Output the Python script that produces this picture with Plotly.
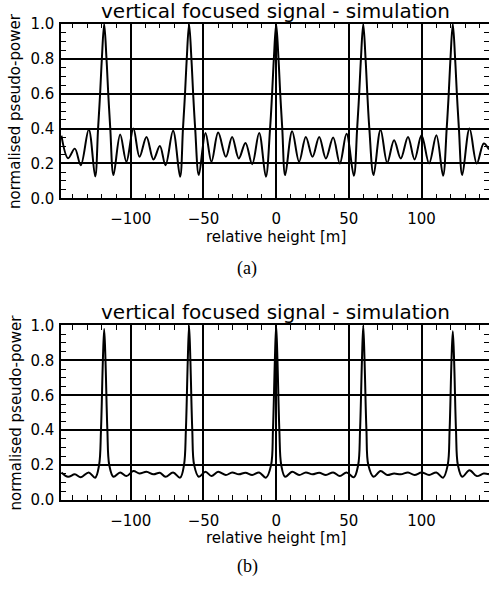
import plotly.graph_objects as go

# ---------------- data ----------------
# (a) vertical focused signal, simulation
top_x = [-147.7, -143.1, -138.5, -134.4, -128.9, -124.5,
         -122.5, -121.1, -119.9, -118.3, -116.7, -115.5, -114.1,
         -111.9, -107.3, -103.0, -98.2, -94.0, -89.2, -84.4, -80.0, -76.1, -70.9, -66.1,
         -64.1, -62.7, -61.5, -59.9, -58.3, -57.1, -55.7,
         -53.2, -48.6, -44.5, -39.9, -34.6, -30.3, -25.7, -21.1, -16.5, -11.7, -7.1,
         -4.2, -2.8, -1.6, 0.0, 1.6, 2.8, 4.2,
         6.2, 11.0, 15.8, 20.4, 25.0, 29.6, 34.2, 39.2, 43.8, 48.4, 53.4,
         55.7, 57.1, 58.3, 59.9, 61.5, 62.7, 64.1,
         67.0, 71.8, 76.4, 81.1, 85.7, 90.7, 95.2, 100.0, 105.2, 110.2, 114.8,
         117.3, 118.7, 119.9, 121.5, 123.1, 124.3, 125.7,
         128.0, 133.0, 138.0, 142.8, 146.4]
top_y = [0.36, 0.23, 0.285, 0.19, 0.395, 0.125,
         0.40, 0.60, 0.80, 1.00, 0.80, 0.60, 0.40,
         0.133, 0.366, 0.21, 0.40, 0.238, 0.352, 0.223, 0.30, 0.19, 0.387, 0.124,
         0.40, 0.60, 0.80, 1.00, 0.80, 0.60, 0.40,
         0.133, 0.375, 0.21, 0.377, 0.238, 0.352, 0.229, 0.318, 0.196, 0.375, 0.124,
         0.40, 0.60, 0.80, 1.00, 0.80, 0.60, 0.40,
         0.133, 0.385, 0.21, 0.352, 0.238, 0.352, 0.229, 0.349, 0.20, 0.37, 0.13,
         0.40, 0.60, 0.80, 1.00, 0.80, 0.60, 0.40,
         0.133, 0.394, 0.204, 0.333, 0.229, 0.352, 0.223, 0.362, 0.20, 0.362, 0.13,
         0.40, 0.60, 0.80, 1.00, 0.80, 0.60, 0.40,
         0.133, 0.40, 0.20, 0.315, 0.28]

# (b) vertical focused signal, simulation
bot_x = [-147.7, -143.1, -138.5, -134.4, -128.9, -124.5,
         -121.8, -120.5, -119.2, -118.3, -117.4, -116.1, -114.8,
         -111.9, -107.3, -103.0, -98.2, -94.0, -89.2, -84.4, -80.0, -76.1, -70.9, -66.1,
         -63.4, -62.1, -60.8, -59.9, -59.0, -57.7, -56.4,
         -53.2, -48.6, -44.5, -39.9, -34.6, -30.3, -25.7, -21.1, -16.5, -11.7, -7.1,
         -3.5, -2.2, -0.9, 0.0, 0.9, 2.2, 3.5,
         6.2, 11.0, 15.8, 20.4, 25.0, 29.6, 34.2, 39.2, 43.8, 48.4, 53.4,
         56.4, 57.7, 59.0, 59.9, 60.8, 62.1, 63.4,
         67.0, 71.8, 76.4, 81.1, 85.7, 90.7, 95.2, 100.0, 105.2, 110.2, 114.8,
         118.0, 119.3, 120.6, 121.5, 122.4, 123.7, 125.0,
         128.0, 133.0, 138.0, 142.8, 146.4]
bot_y = [0.158, 0.133, 0.147, 0.13, 0.158, 0.128,
         0.20, 0.40, 0.80, 0.98, 0.80, 0.40, 0.20,
         0.133, 0.158, 0.137, 0.166, 0.152, 0.162, 0.147, 0.156, 0.133, 0.158, 0.128,
         0.20, 0.40, 0.80, 1.00, 0.80, 0.40, 0.20,
         0.133, 0.162, 0.137, 0.162, 0.143, 0.158, 0.147, 0.156, 0.143, 0.158, 0.128,
         0.20, 0.40, 0.80, 1.00, 0.80, 0.40, 0.20,
         0.133, 0.162, 0.143, 0.158, 0.147, 0.156, 0.143, 0.158, 0.137, 0.158, 0.13,
         0.20, 0.40, 0.80, 1.00, 0.80, 0.40, 0.20,
         0.133, 0.166, 0.143, 0.152, 0.147, 0.158, 0.143, 0.158, 0.143, 0.158, 0.128,
         0.20, 0.40, 0.80, 0.967, 0.80, 0.40, 0.20,
         0.133, 0.171, 0.137, 0.152, 0.147]

title_text = "vertical focused signal - simulation"
x_title = "relative height [m]"
y_title = "normalised pseudo-power"
panel_labels = ["(a)", "(b)"]

# ---------------- figure ----------------
W, H = 489, 592
ML = 61
FONT = "DejaVu Sans"

fig = go.Figure()
fig.add_trace(go.Scatter(x=top_x, y=top_y, mode="lines", line=dict(color="black", width=2, shape="spline", smoothing=1.0),
                         xaxis="x", yaxis="y", showlegend=False, hoverinfo="skip"))
fig.add_trace(go.Scatter(x=bot_x, y=bot_y, mode="lines", line=dict(color="black", width=2, shape="spline", smoothing=1.0),
                         xaxis="x2", yaxis="y2", showlegend=False, hoverinfo="skip"))


def py2paper(py):
    return 1 - py / H


def px2paper(px):
    return (px - ML) / (W - ML)


xcommon = dict(range=[-148, 146.4], tick0=0, dtick=50, ticks="inside", ticklen=5, tickwidth=1.5,
               tickcolor="black", showgrid=True, gridcolor="black", gridwidth=1.5,
               showline=True, linecolor="black", linewidth=1.5, mirror="ticks", zeroline=False,
               tickfont=dict(family=FONT, size=15, color="black"), ticklabelstandoff=6,
               minor=dict(tick0=0, dtick=10, ticks="inside", ticklen=5, tickwidth=1, tickcolor="black", showgrid=False),
               fixedrange=True, automargin=False)
ycommon = dict(range=[0, 1.003], tick0=0, dtick=0.2, tickformat=".1f", ticks="inside", ticklen=5, tickwidth=1.5,
               tickcolor="black", showgrid=True, gridcolor="black", gridwidth=1.5,
               showline=True, linecolor="black", linewidth=1.5, mirror="ticks", zeroline=False,
               tickfont=dict(family=FONT, size=15, color="black"), ticklabelstandoff=2,
               minor=dict(tick0=0, dtick=0.05, ticks="inside", ticklen=5, tickwidth=1, tickcolor="black", showgrid=False),
               fixedrange=True, automargin=False)

top_dom = [py2paper(198.3), py2paper(23.5)]
bot_dom = [py2paper(500.0), py2paper(325.0)]

fig.update_layout(
    width=W, height=H, autosize=False,
    margin=dict(l=ML, r=0, t=0, b=0, pad=0, autoexpand=False),
    paper_bgcolor="white", plot_bgcolor="white",
    xaxis=dict(domain=[0, 1], anchor="y", **xcommon),
    yaxis=dict(domain=top_dom, anchor="x", **ycommon),
    xaxis2=dict(domain=[0, 1], anchor="y2", **xcommon),
    yaxis2=dict(domain=bot_dom, anchor="x2", **ycommon),
)

ann = []
for (tcy, xtcy, ytcy, lcy, lab) in [(11, 237.3, 111, 268.3, panel_labels[0]),
                                     (312, 538.3, 412.5, 566.7, panel_labels[1])]:
    ann.append(dict(text=title_text, x=px2paper(275.5), y=py2paper(tcy), xref="paper", yref="paper",
                    xanchor="center", yanchor="middle", showarrow=False,
                    font=dict(family=FONT, size=20, color="black")))
    ann.append(dict(text=x_title, x=px2paper(275.5), y=py2paper(xtcy), xref="paper", yref="paper",
                    xanchor="center", yanchor="middle", showarrow=False,
                    font=dict(family=FONT, size=15, color="black")))
    ann.append(dict(text=y_title, x=px2paper(15), y=py2paper(ytcy), xref="paper", yref="paper",
                    xanchor="center", yanchor="middle", showarrow=False, textangle=-90,
                    font=dict(family=FONT, size=15, color="black")))
    ann.append(dict(text=lab, x=px2paper(247), y=py2paper(lcy), xref="paper", yref="paper",
                    xanchor="center", yanchor="middle", showarrow=False,
                    font=dict(family="Liberation Serif", size=18, color="black")))
fig.update_layout(annotations=ann)

fig.write_html("out.html", config={"displayModeBar": False, "responsive": False},
               post_script="document.body.style.margin='0';document.body.style.overflow='hidden';")
